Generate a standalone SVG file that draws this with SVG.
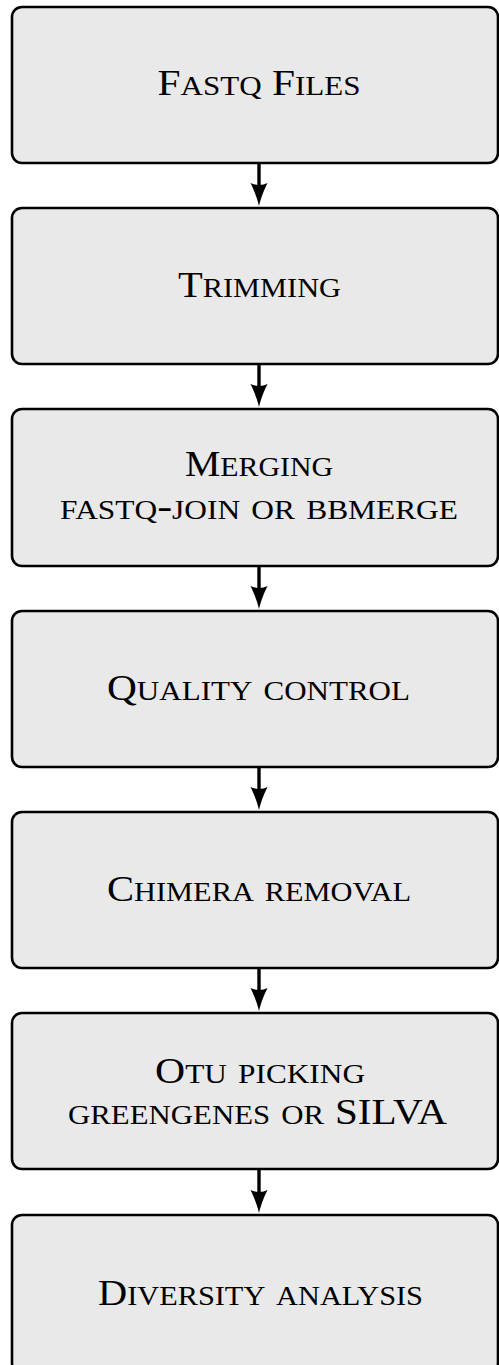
<svg xmlns="http://www.w3.org/2000/svg" width="499" height="1365" viewBox="0 0 499 1365">
  <style>
    .box { fill: #e9e9e9; stroke: #000; stroke-width: 2.6; }
    .lbl { font-family: "Liberation Serif", "Times New Roman", serif; font-size: 36px; font-variant: small-caps; fill: #000; text-anchor: middle; }
    .sc { font-size: 38.6px; }
    .edge { stroke: #000; stroke-width: 3.4; fill: none; marker-end: url(#arrow); }
  </style>
  <defs>
    <marker id="arrow" viewBox="0 0 24 18" refX="15" refY="9" markerWidth="24" markerHeight="18" markerUnits="userSpaceOnUse" orient="auto">
      <path d="M23,9 C15,7.2 6,3.5 0,0.5 C2.5,5 2.5,13 0,17.5 C6,14.5 15,10.8 23,9 Z" fill="#000"/>
    </marker>
  </defs>
  <rect x="0" y="0" width="499" height="1365" fill="#fff"/>

  <g id="connectors">
    <line class="edge" x1="259" y1="163" x2="259" y2="198"/>
    <line class="edge" x1="259" y1="364" x2="259" y2="399"/>
    <line class="edge" x1="259" y1="566" x2="259" y2="601"/>
    <line class="edge" x1="259" y1="767" x2="259" y2="802"/>
    <line class="edge" x1="259" y1="968" x2="259" y2="1003"/>
    <line class="edge" x1="259" y1="1169" x2="259" y2="1205"/>
  </g>

  <g id="fastq-files">
    <rect class="box" x="12" y="7" width="486" height="156" rx="10"/>
    <text class="lbl" x="259" y="94.5" textLength="203" lengthAdjust="spacingAndGlyphs">F<tspan class="sc">astq</tspan> F<tspan class="sc">iles</tspan></text>
  </g>

  <g id="trimming">
    <rect class="box" x="12" y="208" width="486" height="156" rx="10"/>
    <text class="lbl" x="259.5" y="297" textLength="163" lengthAdjust="spacingAndGlyphs">T<tspan class="sc">rimming</tspan></text>
  </g>

  <g id="merging">
    <rect class="box" x="12" y="409" width="486" height="157" rx="10"/>
    <text class="lbl" x="259" y="476" textLength="148" lengthAdjust="spacingAndGlyphs">M<tspan class="sc">erging</tspan></text>
    <text class="lbl sc" x="259" y="519" textLength="398" lengthAdjust="spacingAndGlyphs">fastq-join or bbmerge</text>
  </g>

  <g id="quality-control">
    <rect class="box" x="12" y="611" width="486" height="156" rx="10"/>
    <text class="lbl" x="258.5" y="700" textLength="303" lengthAdjust="spacingAndGlyphs">Q<tspan class="sc">uality control</tspan></text>
  </g>

  <g id="chimera-removal">
    <rect class="box" x="12" y="812" width="486" height="156" rx="10"/>
    <text class="lbl" x="259" y="901" textLength="304" lengthAdjust="spacingAndGlyphs">C<tspan class="sc">himera removal</tspan></text>
  </g>

  <g id="otu-picking">
    <rect class="box" x="12" y="1013" width="486" height="156" rx="10"/>
    <text class="lbl" x="260" y="1083" textLength="210" lengthAdjust="spacingAndGlyphs">O<tspan class="sc">tu picking</tspan></text>
    <text class="lbl" x="257.5" y="1124" textLength="379" lengthAdjust="spacingAndGlyphs"><tspan class="sc">greengenes or </tspan>SILVA</text>
  </g>

  <g id="diversity-analysis">
    <rect class="box" x="12" y="1215" width="486" height="158" rx="10"/>
    <text class="lbl" x="260.5" y="1305" textLength="325" lengthAdjust="spacingAndGlyphs">D<tspan class="sc">iversity analysis</tspan></text>
  </g>
</svg>
